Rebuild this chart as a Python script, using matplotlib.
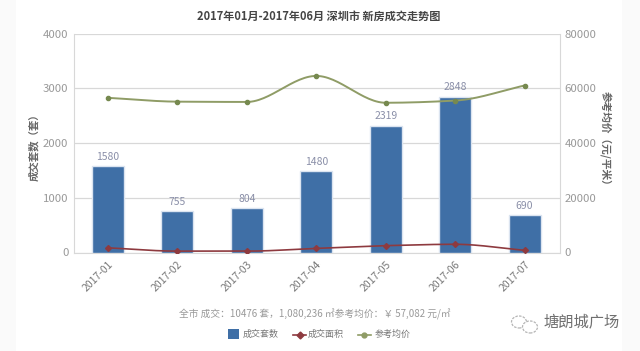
import numpy as np
import matplotlib
matplotlib.use('Agg')
from matplotlib import pyplot as plt
from matplotlib.patches import Ellipse, Rectangle

plt.rcParams['font.family'] = ['Noto Sans CJK SC', 'DejaVu Sans']

months = ['2017-01', '2017-02', '2017-03', '2017-04', '2017-05', '2017-06', '2017-07']
deals = [1580, 755, 804, 1480, 2319, 2848, 690]
area = [1700, 500, 500, 1500, 2500, 3000, 800]
price = [56500, 55100, 55000, 64500, 54700, 55500, 61000]
left_ticks = [0, 1000, 2000, 3000, 4000]
right_ticks = [0, 20000, 40000, 60000, 80000]

W, H = 640, 351
BLUE = '#3f6fa6'
RED = '#8e3a3f'
GREEN = '#8f9c66'
GRAY = '#999999'


def smooth(x, y, n=30):
    # monotone cubic so the curve stays flat between close points
    x = np.asarray(x, dtype=float)
    y = np.asarray(y, dtype=float)
    d = np.diff(y) / np.diff(x)
    m = np.zeros(len(y))
    for i in range(1, len(y) - 1):
        if d[i - 1] * d[i] > 0:
            m[i] = 2 * d[i - 1] * d[i] / (d[i - 1] + d[i])
    m[0], m[-1] = d[0], d[-1]
    xs, ys = [], []
    for i in range(len(y) - 1):
        t = np.linspace(0, 1, n)
        h = x[i + 1] - x[i]
        ys.append((2*t**3 - 3*t**2 + 1) * y[i] + (t**3 - 2*t**2 + t) * h * m[i]
                  + (-2*t**3 + 3*t**2) * y[i + 1] + (t**3 - t**2) * h * m[i + 1])
        xs.append(x[i] + t * h)
    return np.concatenate(xs), np.concatenate(ys)


def fx(px):
    return px / W


def fy(px):
    return 1 - px / H


fig = plt.figure(figsize=(W / 100, H / 100), dpi=100, facecolor='white')
# pale strips left and right of the screenshot
fig.add_artist(Rectangle((0, 0), fx(16), 1, transform=fig.transFigure, color='#fafafa', lw=0))
fig.add_artist(Rectangle((fx(622), 0), fx(18), 1, transform=fig.transFigure, color='#fafafa', lw=0))

ax = fig.add_axes([fx(74), fy(252.5), fx(486), 219 / H])
ax.patch.set_alpha(0)
ax2 = ax.twinx()
x = np.arange(len(months))

ax.bar(x, deals, width=0.46, color=BLUE, edgecolor='#dbe4f0', linewidth=1.0, zorder=3)
for xi, v in zip(x, deals):
    ax.annotate(str(v), (xi, v), xytext=(0, 3), textcoords='offset points', ha='center',
                va='bottom', fontsize=7.5, color='#8a8fa8', zorder=6)

ax.set_xlim(-0.49, 6.51)
ax.set_ylim(0, 4000)
ax.set_yticks(left_ticks)
ax.set_xticks(x)
ax.set_xticklabels(months, rotation=45, ha='right', rotation_mode='anchor', fontsize=7.5, color='#777777')
ax.tick_params(axis='x', length=0, pad=5)
ax.tick_params(axis='y', length=0, labelsize=8.2, labelcolor=GRAY, pad=4)
ax.grid(axis='y', color='#d8d8d8', linewidth=0.9, zorder=0)
ax.set_axisbelow(True)
for s in ['top', 'right']:
    ax.spines[s].set_visible(False)
ax.spines['left'].set_color('#d8d8d8')
ax.spines['bottom'].set_color('#d8d8d8')

ax2.set_zorder(ax.get_zorder() + 1)
xs, ys = smooth(x, area)
ax2.plot(xs, ys, color=RED, linewidth=1.2, zorder=4)
ax2.plot(x, area, ls='none', marker='D', ms=3, color=RED, zorder=5)
xs, ys = smooth(x, price)
ax2.plot(xs, ys, color=GREEN, linewidth=1.4, zorder=4)
ax2.plot(x, price, ls='none', marker='o', ms=3, color='#76894f', zorder=5)
ax2.set_ylim(0, 80000)
ax2.set_yticks(right_ticks)
ax2.tick_params(axis='y', length=0, labelsize=8.2, labelcolor=GRAY, pad=3.5)
for s in ax2.spines.values():
    s.set_visible(False)
ax2.spines['right'].set_visible(True)
ax2.spines['right'].set_color('#d8d8d8')

fig.text(fx(319), fy(16.5), '2017年01月-2017年06月 深圳市 新房成交走势图', ha='center', va='center',
         fontsize=8, fontweight='bold', color='#444444')
fig.text(fx(34), fy(145), '成交套数（套）', rotation=90, ha='center', va='center', fontsize=7.5,
         fontweight='bold', color='#666666')
fig.text(fx(605), fy(141), '参考均价（元/平米）', rotation=270, ha='center', va='center', fontsize=7.7,
         fontweight='bold', color='#666666')
fig.text(fx(315), fy(314.5), '全市 成交：10476 套，1,080,236 ㎡参考均价：￥ 57,082 元/㎡', ha='center',
         va='center', fontsize=7, color='#999999')

# legend
fig.add_artist(Rectangle((fx(228), fy(339)), 11 / W, 10 / H, transform=fig.transFigure, color=BLUE, lw=0))
fig.text(fx(243), fy(334.5), '成交套数', va='center', fontsize=6.5, color='#777777')
fig.add_artist(plt.Line2D([fx(293), fx(300), fx(306)], [fy(334.5)] * 3, transform=fig.transFigure, color=RED,
                          lw=1.2, marker='D', ms=3.5, markevery=[1]))
fig.text(fx(308), fy(334.5), '成交面积', va='center', fontsize=6.5, color='#777777')
fig.add_artist(plt.Line2D([fx(358), fx(364), fx(371)], [fy(334.5)] * 3, transform=fig.transFigure, color=GREEN,
                          lw=1.2, marker='o', ms=3.5, markevery=[1]))
fig.text(fx(375), fy(334.5), '参考均价', va='center', fontsize=6.5, color='#777777')

# wechat watermark
for cx, cy, ew, eh in [(519, 322, 15, 12), (530, 327, 15, 12)]:
    fig.add_artist(Ellipse((fx(cx), fy(cy)), ew / W, eh / H, transform=fig.transFigure, facecolor='white',
                           edgecolor='#b5b5b5', linewidth=0.9, linestyle=(0, (2, 1))))
fig.text(fx(543), fy(323), '塘朗城广场', va='center', fontsize=11, color='#6f6f6f')

fig.savefig('out.png', dpi=100)
